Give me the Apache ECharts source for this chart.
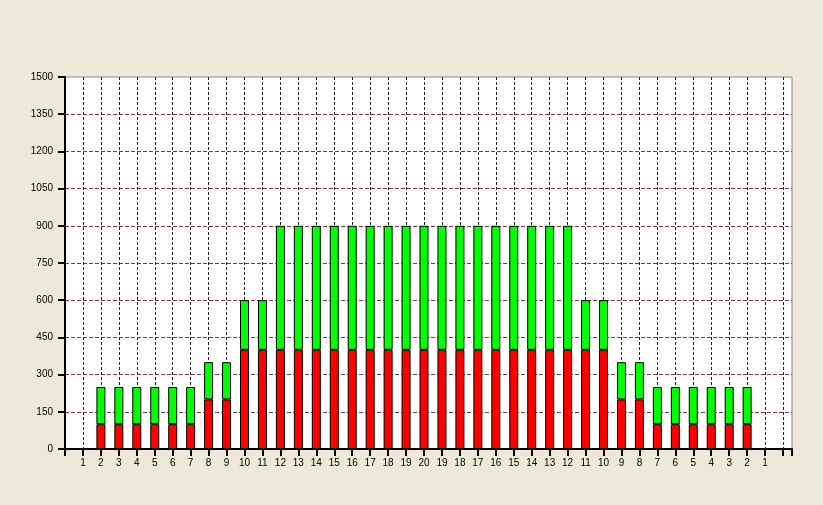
<!DOCTYPE html>
<html>
<head>
<meta charset="utf-8">
<script src="https://cdn.jsdelivr.net/npm/echarts@6/dist/echarts.min.js"></script>
<style>
  html, body { margin: 0; padding: 0; background: #ECE9D8; }
  #chart { width: 823px; height: 505px; }
</style>
</head>
<body>
<div id="chart"></div>
<script>
// x axis labels, one per slot
const xLabels = ['1', '2', '3', '4', '5', '6', '7', '8', '9', '10',
  '11', '12', '13', '14', '15', '16', '17', '18', '19', '20',
  '19', '18', '17', '16', '15', '14', '13', '12', '11', '10',
  '9', '8', '7', '6', '5', '4', '3', '2', '1']

// lower (red) part of each bar
const redValues = [0, 100, 100, 100, 100, 100, 100, 200, 200, 400,
  400, 400, 400, 400, 400, 400, 400, 400, 400, 400,
  400, 400, 400, 400, 400, 400, 400, 400, 400, 400,
  200, 200, 100, 100, 100, 100, 100, 100, 0]

// upper (green) part of each bar
const greenValues = [0, 150, 150, 150, 150, 150, 150, 150, 150, 200,
  200, 500, 500, 500, 500, 500, 500, 500, 500, 500,
  500, 500, 500, 500, 500, 500, 500, 500, 200, 200,
  150, 150, 150, 150, 150, 150, 150, 150, 0]

// y ticks
const yMin = 0
const yMax = 1500
const yStep = 150

const chart = echarts.init(document.getElementById('chart'))

// value first so the stack runs on y, slot number second
const toPoints = arr => arr.map((v, i) => [v, i + 1])

const option = {
  animation: false,
  backgroundColor: '#ECE9D8',
  grid: {
    left: 65,
    top: 77,
    right: 31,
    bottom: 56,
    show: true,
    backgroundColor: '#ffffff',
    borderColor: '#8a8a8a',
    borderWidth: 1
  },
  xAxis: {
    type: 'value',
    min: 0,
    max: xLabels.length + 1.5,
    interval: 1,
    axisLine: { show: true, onZero: false, lineStyle: { color: '#000', width: 2 } },
    axisTick: { show: true, length: 7, lineStyle: { color: '#000', width: 2 } },
    axisLabel: {
      margin: 9,
      color: '#000',
      fontSize: 10,
      fontFamily: 'Liberation Sans',
      formatter: v => xLabels[v - 1] || ''
    },
    splitLine: {
      show: true,
      showMinLine: false,
      showMaxLine: false,
      lineStyle: { color: '#222', width: 1, type: [3, 2] }
    }
  },
  yAxis: {
    type: 'value',
    min: yMin,
    max: yMax,
    interval: yStep,
    axisLine: { show: true, lineStyle: { color: '#000', width: 2 } },
    axisTick: { show: true, length: 7, lineStyle: { color: '#000', width: 2 } },
    axisLabel: {
      margin: 12,
      color: '#000',
      fontSize: 10,
      fontFamily: 'Liberation Sans',
      formatter: v => String(v)
    },
    splitLine: {
      show: true,
      showMinLine: false,
      showMaxLine: false,
      lineStyle: { color: '#7a3b3b', width: 1, type: [4, 2] }
    }
  },
  series: [
    {
      name: 'red',
      type: 'bar',
      stack: 'total',
      barWidth: 9,
      encode: { x: 1, y: 0 },
      data: toPoints(redValues),
      itemStyle: { color: '#ff0000', borderColor: '#000', borderWidth: 1 }
    },
    {
      name: 'green',
      type: 'bar',
      stack: 'total',
      barWidth: 9,
      encode: { x: 1, y: 0 },
      data: toPoints(greenValues),
      itemStyle: { color: '#00ff00', borderColor: '#000', borderWidth: 1 }
    }
  ]
}

chart.setOption(option)
</script>
</body>
</html>
